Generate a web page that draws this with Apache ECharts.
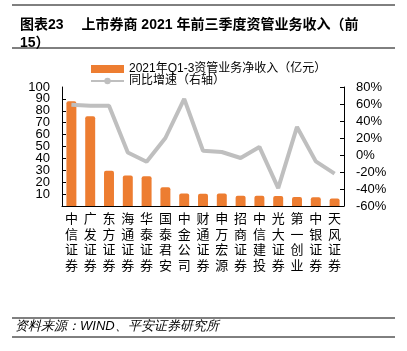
<!DOCTYPE html>
<html>
<head>
<meta charset="UTF-8">
<title>上市券商资管业务收入</title>
<script type="text/javascript" src="https://cdn.jsdelivr.net/npm/echarts@6/dist/echarts.min.js"></script>
<style>
  body{margin:0;padding:0;background:#fff}
</style>
</head>
<body>
<div id="main" style="width:407px;height:351px"></div>
<script type="text/javascript">
// 券商名称
var brokers = ['中信证券','广发证券','东方证券','海通证券','华泰证券','国泰君安','中金公司','财通证券',
               '申万宏源','招商证券','中信建投','光大证券','第一创业','中银证券','天风证券'];
// 资管业务净收入（亿元）
var income = [88, 75.5, 29.7, 25.7, 24.9, 15.8, 10.5, 10.3, 10.6, 8.6, 8.6, 8.5, 7.5, 7.4, 6.4];
// 同比增速（%）
var growth = [59, 58, 58, 3, -8, 20, 66, 5, 3.5, -3.5, 9.5, -39, 33, -7.5, -22];
var leftTicks = [0, 100, 10];
var rightTicks = [-60, 80, 20];

var font = '"Liberation Sans", "Noto Sans CJK SC", sans-serif';
var myChart = echarts.init(document.getElementById('main'));

var option = {
    animation: false,
    textStyle: { fontFamily: font },
    title: {
        text: '图表23　 上市券商 2021 年前三季度资管业务收入（前\n15）',
        left: 15,
        top: 11,
        textStyle: { fontSize: 14, fontWeight: 'bold', color: '#000', lineHeight: 18, fontFamily: font }
    },
    legend: {
        orient: 'vertical',
        left: 85,
        top: 58,
        itemGap: 0,
        itemWidth: 33,
        itemHeight: 8,
        textStyle: { fontSize: 12, color: '#000', fontFamily: font },
        data: [
            { name: '2021年Q1-3资管业务净收入（亿元）', icon: 'rect' },
            { name: '同比增速（右轴）' }
        ]
    },
    grid: { left: 62, right: 63, top: 87, bottom: 145 },
    xAxis: {
        type: 'category',
        data: brokers,
        axisLine: { lineStyle: { color: '#000', width: 1 } },
        axisTick: { inside: true, length: 4, lineStyle: { color: '#000' } },
        axisLabel: {
            interval: 0,
            margin: 6,
            color: '#000',
            formatter: function (v) { return '{v|' + v.split('').join('\n') + '}'; },
            rich: { v: { fontSize: 13, lineHeight: 15.5, color: '#000', fontFamily: font } }
        }
    },
    yAxis: [{
        type: 'value',
        min: leftTicks[0], max: leftTicks[1], interval: leftTicks[2],
        splitLine: { show: false },
        axisLine: { show: true, lineStyle: { color: '#000' } },
        axisTick: { show: true, inside: true, length: 4, lineStyle: { color: '#000' } },
        axisLabel: { fontSize: 13, color: '#000', margin: 12 }
    }, {
        type: 'value',
        min: rightTicks[0], max: rightTicks[1], interval: rightTicks[2],
        splitLine: { show: false },
        axisLine: { show: true, lineStyle: { color: '#000' } },
        axisTick: { show: true, inside: true, length: 4, lineStyle: { color: '#000' } },
        axisLabel: { fontSize: 13, color: '#000', margin: 12, formatter: '{value}%' }
    }, {
        // 左轴顶端的 100 标签（主轴会自动隐藏重叠的最大值标签）
        type: 'value',
        position: 'left',
        min: leftTicks[0], max: leftTicks[1], interval: leftTicks[1],
        splitLine: { show: false },
        axisLine: { show: false },
        axisTick: { show: false },
        axisLabel: {
            fontSize: 13, color: '#000', margin: 12, showMaxLabel: true,
            formatter: function (v) { return v === leftTicks[1] ? String(v) : ''; }
        }
    }],
    series: [{
        name: '2021年Q1-3资管业务净收入（亿元）',
        type: 'bar',
        data: income,
        barWidth: '53%',
        itemStyle: { color: '#ED7D31', borderRadius: [2, 2, 0, 0] }
    }, {
        name: '同比增速（右轴）',
        type: 'line',
        yAxisIndex: 1,
        data: growth,
        symbol: 'none',
        lineStyle: { color: '#BFBFBF', width: 4 },
        itemStyle: { color: '#BFBFBF' }
    }],
    graphic: [
        { type: 'line', shape: { x1: 12, y1: 5, x2: 395, y2: 5 }, style: { stroke: '#000', lineWidth: 1 } },
        { type: 'line', shape: { x1: 12, y1: 48, x2: 395, y2: 48 }, style: { stroke: '#000', lineWidth: 1 } },
        { type: 'line', shape: { x1: 12, y1: 318, x2: 395, y2: 318 }, style: { stroke: '#000', lineWidth: 1 } },
        { type: 'line', shape: { x1: 12, y1: 337, x2: 395, y2: 337 }, style: { stroke: '#000', lineWidth: 1 } },
        { type: 'text', left: 15, top: 320,
          style: { text: '资料来源：WIND、平安证券研究所', fontSize: 13, fontStyle: 'italic', fill: '#000', font: 'italic 13px ' + font } }
    ]
};
myChart.setOption(option);
</script>
</body>
</html>
